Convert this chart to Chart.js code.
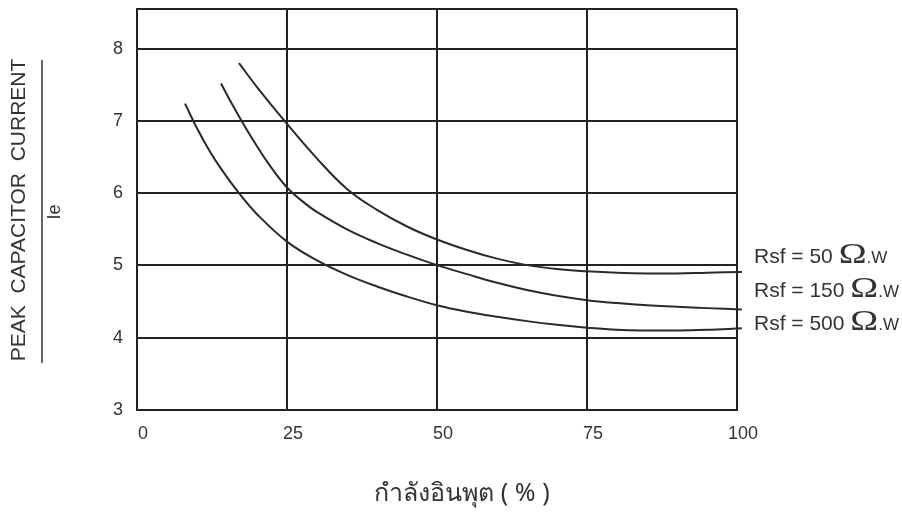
<!DOCTYPE html>
<html>
<head>
<meta charset="utf-8">
<script src="https://cdn.jsdelivr.net/npm/chart.js@4.4.1/dist/chart.umd.min.js"></script>
<style>
  html, body { margin: 0; padding: 0; background: #fff; }
  #wrap { width: 902px; height: 513px; }
</style>
</head>
<body>
<div id="wrap"><canvas id="myChart" width="902" height="513"></canvas></div>
<script>
"use strict";

// input power (%) vs peak capacitor current / Ie
var rsf50X  = [17, 20, 25, 30, 35, 40, 45, 50, 55, 60, 65, 70, 75, 80, 85, 90, 95, 100.8];
var rsf50Y  = [7.8, 7.47, 6.96, 6.48, 6.06, 5.77, 5.54, 5.36, 5.215, 5.095, 5.005, 4.95, 4.92, 4.9, 4.89, 4.89, 4.9, 4.91];

var rsf150X = [14, 16, 18, 20, 22, 25, 28, 30, 35, 40, 45, 50, 55, 60, 65, 70, 75, 80, 85, 90, 95, 100.8];
var rsf150Y = [7.52, 7.21, 6.92, 6.65, 6.4, 6.08, 5.86, 5.74, 5.5, 5.31, 5.15, 5.005, 4.88, 4.76, 4.66, 4.58, 4.52, 4.48, 4.45, 4.43, 4.41, 4.39];

var rsf500X = [8, 10, 12, 14, 17, 20, 25, 30, 35, 40, 45, 50, 55, 60, 65, 70, 75, 80, 85, 90, 95, 100.8];
var rsf500Y = [7.24, 6.9, 6.6, 6.34, 6.0, 5.71, 5.33, 5.07, 4.87, 4.71, 4.57, 4.45, 4.36, 4.29, 4.23, 4.18, 4.14, 4.11, 4.1, 4.1, 4.11, 4.13];

var seriesLabels = ['Rsf = 50 ', 'Rsf = 150 ', 'Rsf = 500 '];
var yTicks = [3, 4, 5, 6, 7, 8];
var xTitle = 'กำลังอินพุต ( % )';
var yTitle = 'PEAK  CAPACITOR  CURRENT';
var yTitleDen = 'Ie';

function pts(xs, ys) {
    return xs.map(function (x, i) { return { x: x, y: ys[i] }; });
}

var ink = '#222';
var sans = '"Liberation Sans", Arial, sans-serif';

var textPlugin = {
    id: 'paperText',
    afterDraw: function (chart) {
        var ctx = chart.ctx;
        ctx.save();
        ctx.fillStyle = '#333';

        // series labels at the right of the curves
        var base = [263, 297, 330];
        seriesLabels.forEach(function (t, i) {
            var x = 754;
            ctx.textBaseline = 'alphabetic';
            ctx.textAlign = 'left';
            ctx.font = '21px ' + sans;
            ctx.fillText(t, x, base[i]);
            x += ctx.measureText(t).width;
            ctx.font = '30px "Liberation Serif", "DejaVu Serif", serif';
            var w = ctx.measureText('\u03A9').width;
            ctx.save();
            ctx.translate(x, base[i]);
            ctx.scale(1.25, 1);
            ctx.fillText('\u03A9', 0, 0);
            ctx.restore();
            x += w * 1.25;
            ctx.font = '17px ' + sans;
            ctx.fillText('.W', x, base[i]);
        });

        // y axis title as a fraction
        ctx.save();
        ctx.translate(19, 210);
        ctx.rotate(-Math.PI / 2);
        ctx.font = '21px ' + sans;
        ctx.textAlign = 'center';
        ctx.textBaseline = 'middle';
        ctx.fillText(yTitle, 0, 0);
        ctx.restore();

        ctx.strokeStyle = '#333';
        ctx.lineWidth = 1.5;
        ctx.beginPath();
        ctx.moveTo(42, 60);
        ctx.lineTo(42, 363);
        ctx.stroke();

        ctx.save();
        ctx.translate(55, 212);
        ctx.rotate(-Math.PI / 2);
        ctx.font = '18px ' + sans;
        ctx.textAlign = 'center';
        ctx.textBaseline = 'middle';
        ctx.fillText(yTitleDen, 0, 0);
        ctx.restore();

        // x axis title
        ctx.font = '25px "Noto Sans", "DejaVu Sans", sans-serif';
        ctx.textAlign = 'center';
        ctx.textBaseline = 'middle';
        ctx.fillText(xTitle, 462, 494);

        ctx.restore();
    }
};

var lineStyle = {
    borderColor: '#2a2a2a',
    borderWidth: 2,
    pointRadius: 0,
    fill: false,
    clip: { left: 0, top: 0, right: 8, bottom: 0 },
    tension: 0.4
};

var ctx = document.getElementById('myChart').getContext('2d');
var chart = new Chart(ctx, {
    type: 'line',
    data: {
        datasets: [
            Object.assign({ label: seriesLabels[0], data: pts(rsf50X, rsf50Y) }, lineStyle),
            Object.assign({ label: seriesLabels[1], data: pts(rsf150X, rsf150Y) }, lineStyle),
            Object.assign({ label: seriesLabels[2], data: pts(rsf500X, rsf500Y) }, lineStyle)
        ]
    },
    options: {
        responsive: false,
        animation: false,
        layout: { padding: { left: 0, right: 165, top: 9, bottom: 0 } },
        plugins: {
            legend: { display: false },
            tooltip: { enabled: false }
        },
        scales: {
            x: {
                type: 'linear',
                min: 0,
                max: 100,
                afterFit: function (s) { s.height = 103; s.paddingLeft = 0; s.paddingRight = 0; },
                ticks: {
                    stepSize: 25,
                    padding: 13,
                    labelOffset: 6,
                    color: '#333',
                    font: { family: sans, size: 18 }
                },
                grid: { color: ink, lineWidth: 2, drawTicks: false },
                border: { color: ink, width: 2 }
            },
            y: {
                type: 'linear',
                min: 3,
                max: 8.55,
                afterFit: function (s) { s.width = 137; s.paddingTop = 0; s.paddingBottom = 0; },
                afterBuildTicks: function (s) {
                    s.ticks = yTicks.concat([8.55]).map(function (v) { return { value: v }; });
                },
                ticks: {
                    padding: 14,
                    color: '#333',
                    font: { family: sans, size: 18 },
                    callback: function (v) { return yTicks.indexOf(v) >= 0 ? v : ''; }
                },
                grid: { color: ink, lineWidth: 2, drawTicks: false },
                border: { color: ink, width: 2 }
            }
        }
    },
    plugins: [textPlugin]
});
</script>
</body>
</html>
